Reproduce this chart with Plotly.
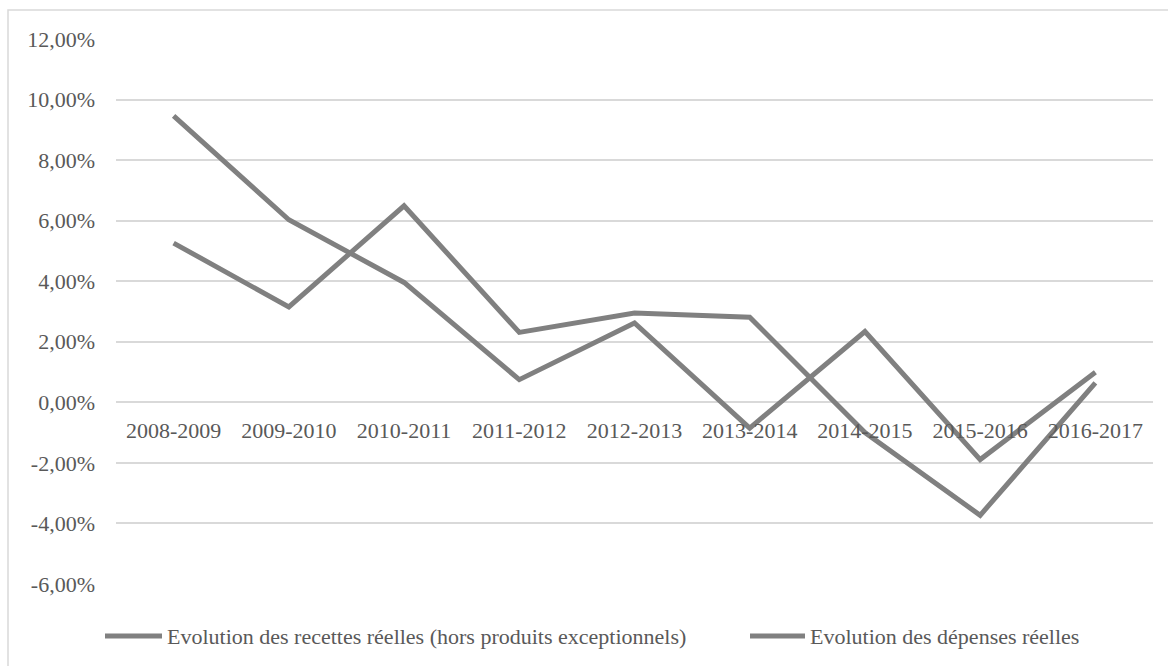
import plotly.graph_objects as go

categories = ["2008-2009", "2009-2010", "2010-2011", "2011-2012", "2012-2013",
              "2013-2014", "2014-2015", "2015-2016", "2016-2017"]
recettes = [9.46, 6.03, 3.96, 0.75, 2.62, -0.85, 2.34, -1.89, 0.99]
depenses = [5.26, 3.15, 6.49, 2.31, 2.95, 2.81, -1.0, -3.73, 0.64]
series_names = ["Evolution des recettes réelles (hors produits exceptionnels)",
                "Evolution des dépenses réelles"]
y_tickvals = [-6, -4, -2, 0, 2, 4, 6, 8, 10, 12]
y_ticktext = ["-6,00%", "-4,00%", "-2,00%", "0,00%", "2,00%", "4,00%",
              "6,00%", "8,00%", "10,00%", "12,00%"]

W, H = 1168, 666
L, R, T, B = 116, 1153, 39, 584
YMIN, YMAX = -6, 12
FONT = "Liberation Serif"
FS = 22
TXT = "#595959"
LINE = "#808080"

def px_x(x):
    return (x - L) / (R - L)

def px_y(y):
    return (B - y) / (B - T)

fig = go.Figure()
for name, vals in zip(series_names, [recettes, depenses]):
    fig.add_trace(go.Scatter(
        x=categories, y=vals, mode="lines", name=name,
        line=dict(color=LINE, width=5), showlegend=False,
    ))

fig.update_layout(
    width=W, height=H,
    margin=dict(l=L, r=W - R, t=T, b=H - B),
    paper_bgcolor="white", plot_bgcolor="white",
    font=dict(family=FONT, size=FS, color=TXT),
    showlegend=False,
    xaxis=dict(
        type="category", range=[-0.5, 8.5], showgrid=False, showline=False,
        zeroline=False, ticks="", anchor="free",
        position=(0 - YMIN) / (YMAX - YMIN),
        tickfont=dict(family=FONT, size=FS, color=TXT),
        ticklabelstandoff=13,
    ),
    yaxis=dict(
        range=[YMIN, YMAX], tickvals=y_tickvals, ticktext=y_ticktext,
        showgrid=True, gridcolor="#d9d9d9", gridwidth=1.5, zeroline=False,
        showline=False, ticks="", ticklabelstandoff=20,
        tickfont=dict(family=FONT, size=FS, color=TXT),
    ),
)

# outer frame
fig.add_shape(type="rect", xref="paper", yref="paper",
              x0=px_x(8), x1=px_x(1172), y0=px_y(672), y1=px_y(10),
              line=dict(color="#d9d9d9", width=1.5), layer="below")

# custom legend
leg_y = px_y(636)
items = [(105, 162, 165), (750, 805, 808)]
for (x0, x1, tx), name in zip(items, series_names):
    fig.add_shape(type="line", xref="paper", yref="paper",
                  x0=px_x(x0), x1=px_x(x1), y0=leg_y, y1=leg_y,
                  line=dict(color=LINE, width=5))
    fig.add_annotation(xref="paper", yref="paper", x=px_x(tx), y=leg_y,
                       text=name, showarrow=False, xanchor="left",
                       yanchor="middle",
                       font=dict(family=FONT, size=FS, color=TXT))

fig.write_html("out.html")
